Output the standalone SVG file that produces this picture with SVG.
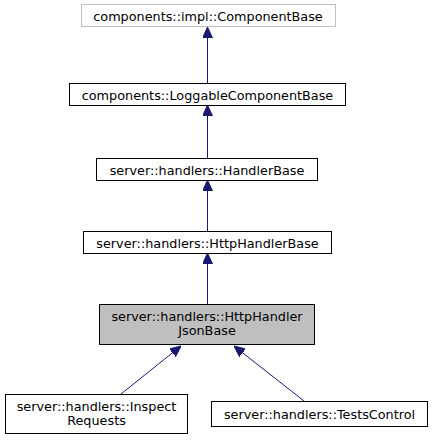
<svg xmlns="http://www.w3.org/2000/svg" width="432" height="440" viewBox="0 0 432 440">
<style>
.n rect{fill:#fff;stroke:#000;stroke-width:1}
.n text{font-family:"DejaVu Sans",sans-serif;font-size:12.8px;text-anchor:middle;fill:#000}
.e path{fill:none;stroke:#191970;stroke-width:1}
</style>
<defs>
<marker id="ah" viewBox="0 0 11 10" refX="11" refY="5" markerWidth="11" markerHeight="10" markerUnits="userSpaceOnUse" orient="auto">
<path d="M0,0 L11,5 L0,10 Z" fill="#191970" stroke="#191970"/>
</marker>
</defs>
<rect width="432" height="440" fill="#fff"/>
<g class="e" id="edges">
<path d="M207.5,83 L207.5,27" marker-end="url(#ah)"/>
<path d="M207.5,158 L207.5,105" marker-end="url(#ah)"/>
<path d="M207.5,231 L207.5,180" marker-end="url(#ah)"/>
<path d="M207.5,304 L207.5,253" marker-end="url(#ah)"/>
<path d="M121,394 L181,346" marker-end="url(#ah)"/>
<path d="M304,401 L234,346" marker-end="url(#ah)"/>
</g>
<g class="n" id="node1"><rect x="81.5" y="4.5" width="254" height="22" style="stroke:#bfbfbf"/><text x="208" y="20.5">components::impl::ComponentBase</text></g>
<g class="n" id="node2"><rect x="69.5" y="83.5" width="276" height="22"/><text x="207.5" y="99.5">components::LoggableComponentBase</text></g>
<g class="n" id="node3"><rect x="96.5" y="158.5" width="221" height="22"/><text x="207" y="174.5">server::handlers::HandlerBase</text></g>
<g class="n" id="node4"><rect x="83.5" y="231.5" width="248" height="22"/><text x="207.5" y="247.5">server::handlers::HttpHandlerBase</text></g>
<g class="n" id="node5"><rect x="99.5" y="304.5" width="215" height="40" style="fill:#bfbfbf"/><text x="207" y="320.5">server::handlers::HttpHandler</text><text x="207" y="335">JsonBase</text></g>
<g class="n" id="node6"><rect x="5.5" y="394.5" width="182" height="39"/><text x="96.5" y="410.8">server::handlers::Inspect</text><text x="96.5" y="424.8">Requests</text></g>
<g class="n" id="node7"><rect x="211.5" y="401.5" width="216" height="25"/><text x="319.5" y="418.5">server::handlers::TestsControl</text></g>
</svg>
